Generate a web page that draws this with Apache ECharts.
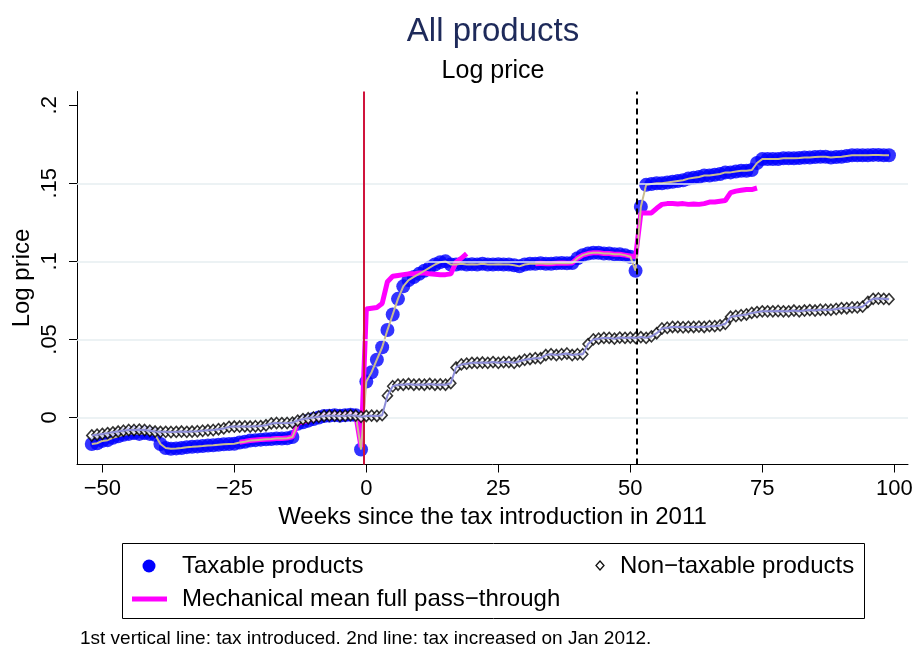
<!DOCTYPE html>
<html>
<head>
<meta charset="utf-8">
<script src="https://cdn.jsdelivr.net/npm/echarts@6/dist/echarts.min.js"></script>
<style>
  html, body { margin: 0; padding: 0; background: #fff; }
  #chart { width: 916px; height: 651px; }
</style>
</head>
<body>
<div id="chart"></div>
<script>
// Weekly mean log prices, weeks -52 .. 99 around the 2011 tax introduction
const firstWeek = -52;

const taxable = [
  -0.017, -0.0165, -0.015, -0.0145, -0.013, -0.012, -0.011, -0.0105, -0.010, -0.0105, -0.010, -0.0105,
  -0.011, -0.017, -0.0195, -0.020, -0.0198, -0.0195, -0.019, -0.0188, -0.0185, -0.0183, -0.018, -0.0178,
  -0.0175, -0.0172, -0.017, -0.0168, -0.016, -0.0155, -0.0148, -0.0145, -0.0142, -0.014, -0.0138, -0.0135,
  -0.0135, -0.0133, -0.0125, -0.004, -0.003, -0.002, -0.001, 0.000, 0.001, 0.0012, 0.0015, 0.0012,
  0.0015, 0.0018, 0.0015, -0.0205,
  0.023, 0.029, 0.037, 0.045, 0.056, 0.066, 0.076, 0.084, 0.088, 0.090, 0.092, 0.094,
  0.096, 0.098, 0.0995, 0.100, 0.098, 0.098, 0.0985, 0.098, 0.0982, 0.098, 0.0985, 0.098,
  0.098, 0.0982, 0.098, 0.098, 0.0975, 0.0968, 0.098, 0.0985, 0.0985, 0.0988, 0.0985, 0.0985,
  0.0988, 0.099, 0.0988, 0.099, 0.102, 0.104, 0.105, 0.1055, 0.1055, 0.105, 0.105, 0.1045,
  0.1045, 0.104, 0.103, 0.094,
  0.135, 0.149, 0.1495, 0.150, 0.150, 0.1505, 0.151, 0.1515, 0.152, 0.153, 0.1535, 0.154,
  0.155, 0.155, 0.1555, 0.156, 0.157, 0.157, 0.1575, 0.158, 0.158, 0.1585, 0.163, 0.1655,
  0.1655, 0.1655, 0.1655, 0.166, 0.166, 0.166, 0.1662, 0.1665, 0.1665, 0.1668, 0.167, 0.167,
  0.1665, 0.1668, 0.167, 0.1675, 0.168, 0.168, 0.168, 0.168, 0.1682, 0.1682, 0.168, 0.168
];

const nonTaxable = [
  -0.0115, -0.011, -0.0105, -0.010, -0.0095, -0.009, -0.0085, -0.008, -0.008, -0.0078, -0.008, -0.0085,
  -0.009, -0.0092, -0.0092, -0.0093, -0.0092, -0.009, -0.0092, -0.009, -0.0088, -0.0085, -0.0082, -0.008,
  -0.0075, -0.007, -0.006, -0.0058, -0.0058, -0.0057, -0.0058, -0.0056, -0.0055, -0.005, -0.0038, -0.0035,
  -0.0036, -0.0035, -0.0033, -0.002, -0.001, -0.0005, 0.000, 0.0005, 0.001, 0.0012, 0.0012, 0.001,
  0.0012, 0.0015, 0.0012, 0.0005, 0.001, 0.0012, 0.001, 0.0015, 0.014, 0.020, 0.021, 0.021,
  0.0215, 0.021, 0.0212, 0.021, 0.0215, 0.021, 0.0212, 0.021, 0.022, 0.032, 0.034, 0.0345,
  0.035, 0.035, 0.0352, 0.035, 0.0355, 0.035, 0.0355, 0.0355, 0.035, 0.036, 0.037, 0.0375,
  0.038, 0.038, 0.040, 0.0405, 0.040, 0.0405, 0.041, 0.040, 0.0405, 0.0405, 0.047, 0.050,
  0.0505, 0.051, 0.051, 0.0505, 0.0512, 0.051, 0.0512, 0.051, 0.0515, 0.051, 0.052, 0.054,
  0.057, 0.0575, 0.058, 0.058, 0.0578, 0.058, 0.058, 0.0582, 0.058, 0.0585, 0.0585, 0.059,
  0.060, 0.0645, 0.065, 0.0655, 0.066, 0.067, 0.0675, 0.068, 0.068, 0.068, 0.0682, 0.068,
  0.068, 0.0685, 0.068, 0.0685, 0.0688, 0.0685, 0.069, 0.069, 0.069, 0.0695, 0.070, 0.070,
  0.0705, 0.0705, 0.071, 0.074, 0.076, 0.0762, 0.076, 0.0758
];

// Mechanical full pass-through path (null where not computed)
const passThrough = [
  null, null, null, null, null, null, null, null, null, null, null, null, null, null,
  null, null, null, null, null, null, null, null, null, null, null, null, null, null,
  -0.0158, -0.0153, -0.0147, -0.0144, -0.0141, -0.0139, -0.0137, -0.0134, -0.0134, -0.0132, -0.0124, -0.0038,
  -0.0028, -0.0018, -0.0008, 0.0002, 0.0012, 0.0014, 0.0017, 0.0014, 0.0017, 0.002, 0.0017, -0.019,
  0.0695, 0.070, 0.0705, 0.073, 0.087, 0.0905, 0.091, 0.0915, 0.092, 0.092, 0.0925, 0.0925,
  0.092, 0.0918, 0.0915, 0.0915, 0.092, 0.0995, 0.102, 0.105,
  null, null, null, null, null, null, null, null, null, null, null, null,
  0.0985, 0.0988, 0.0985, 0.0985, 0.0988, 0.099, 0.0988, 0.099, 0.102, 0.104, 0.105, 0.1055,
  0.1055, 0.105, 0.105, 0.1045, 0.1045, 0.104, 0.1035, 0.103,
  0.131, 0.131, 0.131, 0.134, 0.1365, 0.137, 0.137, 0.1368, 0.137, 0.1365, 0.1368, 0.1365,
  0.137, 0.138, 0.138, 0.1385, 0.139, 0.144, 0.145, 0.1455, 0.146, 0.146, 0.147,
  null, null, null, null, null, null, null, null, null, null, null, null, null,
  null, null, null, null, null, null, null, null, null, null, null, null
];

const xTicks = [-50, -25, 0, 25, 50, 75, 100];
const yTicks = [0, 0.05, 0.1, 0.15, 0.2];
const yGrid = [0, 0.05, 0.1, 0.15];
const taxIntroWeek = -0.45;
const taxIncreaseWeek = 51.2;

const FONT = '"Liberation Sans", Arial, Helvetica, sans-serif';

const pairs = arr => arr.map((v, i) => [firstWeek + i, v === null ? '-' : v]);

const chart = echarts.init(document.getElementById('chart'), null, { renderer: 'canvas' });

const option = {
  animation: false,
  backgroundColor: '#fff',
  textStyle: { fontFamily: FONT },
  grid: { left: 77, top: 91.5, width: 831, height: 373, containLabel: false, outerBoundsMode: 'none' },
  xAxis: {
    type: 'value',
    min: -54.8,
    max: 102.6,
    name: 'Weeks since the tax introduction in 2011',
    nameLocation: 'middle',
    nameGap: 41,
    nameMoveOverlap: false,
    nameTextStyle: { fontSize: 24, color: '#000', fontFamily: FONT },
    axisLine: { onZero: false, lineStyle: { color: '#000', width: 1 } },
    axisTick: { customValues: xTicks, length: 8, lineStyle: { color: '#000', width: 1 } },
    axisLabel: {
      customValues: xTicks,
      formatter: v => String(v).replace('-', '\u2212'),
      fontSize: 22, color: '#000', margin: 13, fontFamily: FONT
    },
    splitLine: { show: false }
  },
  yAxis: {
    type: 'value',
    min: -0.0301,
    max: 0.2088,
    name: 'Log price',
    nameLocation: 'middle',
    nameGap: 43,
    nameRotate: 90,
    nameMoveOverlap: false,
    nameTextStyle: { fontSize: 24, color: '#000', fontFamily: FONT },
    axisLine: { onZero: false, lineStyle: { color: '#000', width: 1 } },
    axisTick: { customValues: yTicks, length: 8, lineStyle: { color: '#000', width: 1 } },
    axisLabel: {
      customValues: yTicks,
      rotate: 90,
      formatter: v => (v === 0 ? '0' : String(+v.toFixed(2)).replace(/^0/, '')),
      fontSize: 22, color: '#000', margin: 16, fontFamily: FONT
    },
    splitLine: { show: false }
  },
  series: [
    {
      // horizontal grid lines and the two event lines
      type: 'line',
      data: [],
      z: 1,
      silent: true,
      markLine: {
        silent: true,
        symbol: ['none', 'none'],
        label: { show: false },
        animation: false,
        data: [
          ...yGrid.map(v => ({ yAxis: v, lineStyle: { color: '#e6eef0', width: 1.5, type: 'solid' } })),
          { xAxis: taxIntroWeek, lineStyle: { color: '#d0143c', width: 2, type: 'solid' } },
          { xAxis: taxIncreaseWeek, lineStyle: { color: '#000', width: 2, type: [6, 4] } }
        ]
      }
    },
    {
      name: 'Taxable products',
      type: 'scatter',
      data: pairs(taxable),
      symbol: 'circle',
      symbolSize: 14,
      itemStyle: { color: '#0000ff' },
      z: 2
    },
    {
      name: 'Mechanical mean full pass-through',
      type: 'line',
      data: pairs(passThrough),
      showSymbol: false,
      symbol: 'none',
      connectNulls: false,
      lineStyle: { color: '#ff00ff', width: 5 },
      z: 3
    },
    {
      type: 'line',
      data: pairs(taxable),
      symbol: 'none',
      lineStyle: { color: '#cbbd8f', width: 2 },
      z: 4
    },
    {
      name: 'Non-taxable products',
      type: 'scatter',
      data: pairs(nonTaxable),
      symbol: 'diamond',
      symbolSize: [10, 11],
      itemStyle: { color: '#fff', borderColor: '#000', borderWidth: 1.6 },
      z: 5
    },
    {
      type: 'line',
      data: pairs(nonTaxable),
      symbol: 'none',
      lineStyle: { color: '#8d8dd9', width: 2 },
      z: 6
    }
  ],
  graphic: [
    {
      type: 'text', x: 493, y: 32,
      style: { text: 'All products', fontSize: 33, fontFamily: FONT, fill: '#1e2a5a', align: 'center', verticalAlign: 'middle' }
    },
    {
      type: 'text', x: 493, y: 71,
      style: { text: 'Log price', fontSize: 25, fontFamily: FONT, fill: '#000', align: 'center', verticalAlign: 'middle' }
    },
    {
      type: 'rect',
      shape: { x: 122.5, y: 543.5, width: 742, height: 75 },
      style: { fill: 'none', stroke: '#000', lineWidth: 1 }
    },
    {
      type: 'circle',
      shape: { cx: 149, cy: 566, r: 6.5 },
      style: { fill: '#0000ff' }
    },
    {
      type: 'text', x: 182, y: 566,
      style: { text: 'Taxable products', fontSize: 24, fontFamily: FONT, fill: '#000', align: 'left', verticalAlign: 'middle' }
    },
    {
      type: 'polygon',
      shape: { points: [[600, 561], [604, 565.5], [600, 570], [596, 565.5]] },
      style: { fill: '#fff', stroke: '#111', lineWidth: 1.3 }
    },
    {
      type: 'text', x: 620, y: 566,
      style: { text: 'Non\u2212taxable products', fontSize: 24, fontFamily: FONT, fill: '#000', align: 'left', verticalAlign: 'middle' }
    },
    {
      type: 'line',
      shape: { x1: 132, y1: 599, x2: 167, y2: 599 },
      style: { stroke: '#ff00ff', lineWidth: 5 }
    },
    {
      type: 'text', x: 182, y: 599,
      style: { text: 'Mechanical mean full pass\u2212through', fontSize: 24, fontFamily: FONT, fill: '#000', align: 'left', verticalAlign: 'middle' }
    },
    {
      type: 'text', x: 80, y: 639,
      style: { text: '1st vertical line: tax introduced. 2nd line: tax increased on Jan 2012.', fontSize: 19, fontFamily: FONT, fill: '#000', align: 'left', verticalAlign: 'middle' }
    }
  ]
};

chart.setOption(option);
</script>
</body>
</html>
